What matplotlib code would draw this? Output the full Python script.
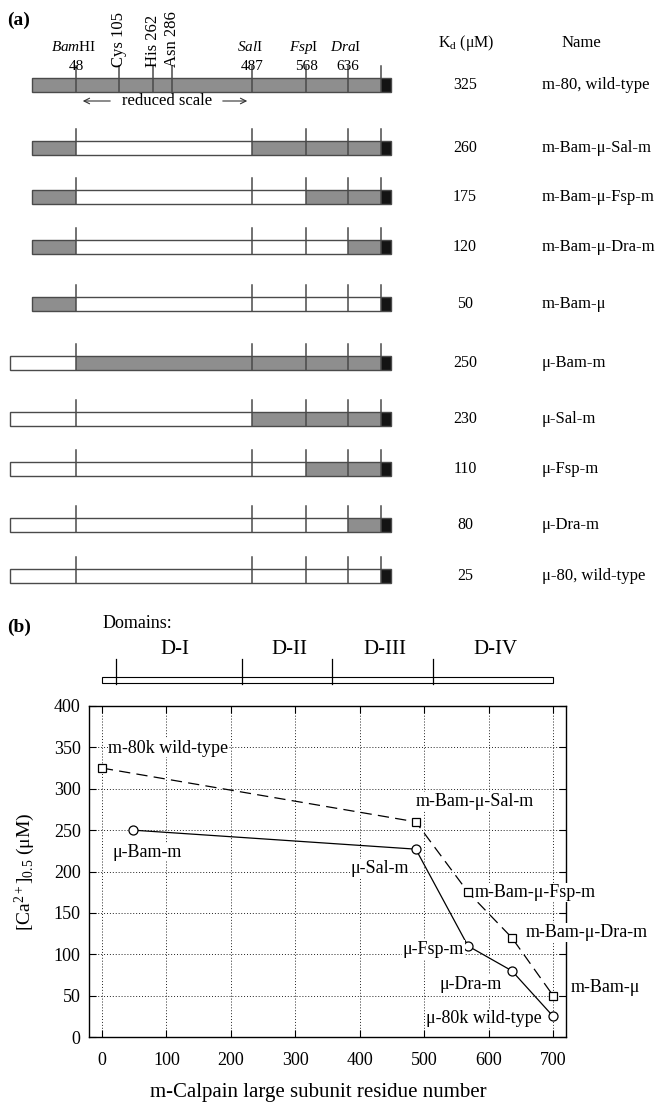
import numpy as np
import matplotlib
matplotlib.use('Agg')
from matplotlib import pyplot as plt
from matplotlib.patches import Rectangle
from matplotlib.transforms import blended_transform_factory

plt.rcParams['font.family'] = ['Liberation Serif', 'DejaVu Serif']
plt.rcParams['mathtext.fontset'] = 'custom'
plt.rcParams['mathtext.rm'] = 'Liberation Serif'
plt.rcParams['mathtext.it'] = 'Liberation Serif:italic'

# ---- (a) chimera map
names = ['m-80, wild-type', 'm-Bam-μ-Sal-m', 'm-Bam-μ-Fsp-m', 'm-Bam-μ-Dra-m', 'm-Bam-μ',
         'μ-Bam-m', 'μ-Sal-m', 'μ-Fsp-m', 'μ-Dra-m', 'μ-80, wild-type']
kd = [325, 260, 175, 120, 50, 250, 230, 110, 80, 25]
# origin of segments: N..Bam, Bam..Sal, Sal..Fsp, Fsp..Dra, Dra..C
origin = ['mmmmm', 'mμmmm', 'mμμmm', 'mμμμm', 'mμμμμ',
          'μmmmm', 'μμmmm', 'μμμmm', 'μμμμm', 'μμμμμ']
enzymes = ['Bam', 'Sal', 'Fsp', 'Dra']
site_res = [48, 487, 568, 636]
active = ['Cys 105', 'His 262', 'Asn 286']
active_res = [105, 262, 286]
c_term = 700

# ---- (b) Ca requirement vs. junction residue
m_x = [0, 487, 568, 636, 700]
m_y = [325, 260, 175, 120, 50]
m_lab = ['m-80k wild-type', 'm-Bam-μ-Sal-m', 'm-Bam-μ-Fsp-m', 'm-Bam-μ-Dra-m', 'm-Bam-μ']
mu_x = [48, 487, 568, 636, 700]
mu_y = [250, 227, 110, 80, 25]
mu_lab = ['μ-Bam-m', 'μ-Sal-m', 'μ-Fsp-m', 'μ-Dra-m', 'μ-80k wild-type']
domains = ['D-I', 'D-II', 'D-III', 'D-IV']
dom_edges = [0, 218, 357, 514, 700]
dom_start = 22


# schematic (reduced scale) position of a residue, in pixels
map_res = [-33, 1, 48, 105, 262, 286, 487, 568, 636, 700]
map_px = [10, 32, 76, 119, 153, 172, 252, 306, 348, 381]
def pos(r):
	return np.interp(r, map_res, map_px)

grey = '#8e8e8e'
edge = '#4a4a4a'

fig = plt.figure(figsize=(6.56, 11.06), dpi=100)
ax_a = fig.add_axes([0, 0, 1, 1])
ax_a.set_xlim(0, 656)
ax_a.set_ylim(1106, 0)
ax_a.axis('off')

ax_b = fig.add_axes([89/656, 1-1037/1106, 477/656, 331/1106])

row_y = [85, 148, 197, 247, 304, 363, 419, 469, 525, 576]
h = 14
for i in range(len(names)):
	y = row_y[i]
	n0 = 1 if origin[i][0] == 'm' else -33
	xs = pos([n0] + site_res + [c_term])
	for k in range(5):
		col = grey if origin[i][k] == 'm' else 'white'
		ax_a.add_patch(Rectangle((xs[k], y-h/2), xs[k+1]-xs[k], h, facecolor=col, edgecolor='none'))
	ax_a.add_patch(Rectangle((xs[-1], y-h/2), 10, h, facecolor='#141414', edgecolor='none'))
	ax_a.add_patch(Rectangle((xs[0], y-h/2), xs[-1]+10-xs[0], h, fill=False, edgecolor=edge, lw=1.0))
	ticks = site_res + [c_term]
	if i == 0:
		ticks = ticks + active_res
	for r in ticks:
		ax_a.plot([pos(r), pos(r)], [y-h/2-12, y+h/2], color=edge, lw=1.1)
	ax_a.text(465, y, str(kd[i]), ha='center', va='center', fontsize=11.5)
	ax_a.text(542, y, names[i], ha='left', va='center', fontsize=12)

for e, r in zip(enzymes, site_res):
	ax_a.text(pos(r)-2, 47, r'$\mathit{' + e + '}$' + ('HI' if e == 'Bam' else 'I'),
		ha='center', va='center', fontsize=11)
	ax_a.text(pos(r), 66, str(r), ha='center', va='center', fontsize=11)
for a, r in zip(active, active_res):
	ax_a.text(pos(r), 67, a, rotation=90, ha='center', va='bottom', fontsize=12)

bam, sal = pos(48), pos(487)
ax_a.text((bam+sal)/2+3, 101, 'reduced scale', ha='center', va='center', fontsize=12)
ax_a.annotate('', xy=(bam+4, 101), xytext=(bam+37, 101),
	arrowprops=dict(arrowstyle='->', lw=0.8, color='#333333'))
ax_a.annotate('', xy=(sal-2, 101), xytext=(sal-32, 101),
	arrowprops=dict(arrowstyle='->', lw=0.8, color='#333333'))

ax_a.text(466, 43, r'K$_\mathrm{d}$ (μM)', ha='center', va='center', fontsize=11.5)
ax_a.text(581, 43, 'Name', ha='center', va='center', fontsize=12)
ax_a.text(7, 20, '(a)', ha='left', va='center', fontsize=14, fontweight='bold')
ax_a.text(7, 627, '(b)', ha='left', va='center', fontsize=14, fontweight='bold')
ax_a.text(103, 623, 'Domains:', ha='left', va='center', fontsize=13)

# domain bar shares the x scale of panel (b)
tr = blended_transform_factory(ax_b.transData, ax_a.transData)
ax_a.add_patch(Rectangle((dom_edges[0], 677), dom_edges[-1]-dom_edges[0], 6, transform=tr,
	facecolor='white', edgecolor='black', lw=0.8))
for xd in [dom_start] + dom_edges[1:-1]:
	ax_a.plot([xd, xd], [659, 684], color='black', lw=0.9, transform=tr)
for k, d in enumerate(domains):
	ax_a.text((dom_edges[k]+dom_edges[k+1])/2+4, 650, d, ha='center', va='center',
		fontsize=15, transform=tr)

# ---- panel (b)
ax_b.plot(m_x, m_y, color='black', lw=0.9, linestyle=(0, (9, 5)), marker='s', markersize=6,
	markerfacecolor='white', markeredgecolor='black', markeredgewidth=0.9, zorder=3)
ax_b.plot(mu_x, mu_y, color='black', lw=0.9, marker='o', markersize=6.5,
	markerfacecolor='white', markeredgecolor='black', markeredgewidth=0.9, zorder=3)

m_off = [(4.7, 14.4, 'left'), (0, 15, 'left'), (5, 0, 'left'), (10, 3.6, 'left'), (13, 6, 'left')]
mu_off = [(-14.4, -15.8, 'left'), (-4.8, -13.7, 'right'), (-2.8, -2.4, 'right'),
	(-7, -9.6, 'right'), (-8, -1.5, 'right')]
for xs, ys, labs, offs in [(m_x, m_y, m_lab, m_off), (mu_x, mu_y, mu_lab, mu_off)]:
	for x, y, t, o in zip(xs, ys, labs, offs):
		ax_b.annotate(t, (x, y), xytext=(o[0], o[1]), textcoords='offset points',
			ha=o[2], va='center', fontsize=13, zorder=4,
			bbox=dict(boxstyle='square,pad=0.05', facecolor='white', edgecolor='none'))

ax_b.set_xlim(-20, 720)
ax_b.set_ylim(0, 400)
ax_b.set_xticks(np.arange(0, 701, 100))
ax_b.set_yticks(np.arange(0, 401, 50))
ax_b.grid(True, color='#222222', linestyle=(0, (1, 2)), lw=0.7)
ax_b.tick_params(direction='in', length=5, top=True, right=True, labelsize=13)
ax_b.tick_params(axis='x', pad=11)
ax_b.tick_params(axis='y', pad=6)
for s in ax_b.spines.values():
	s.set_linewidth(1.0)

fig.text(25/656, 1-872/1106, r'[Ca$^{2+}$]$_{0.5}$ (μM)', rotation=90, ha='center', va='center',
	fontsize=14)
fig.text(318/656, 1-1093/1106, 'm-Calpain large subunit residue number', ha='center',
	va='center', fontsize=15)

plt.savefig('out.png', dpi=100)
